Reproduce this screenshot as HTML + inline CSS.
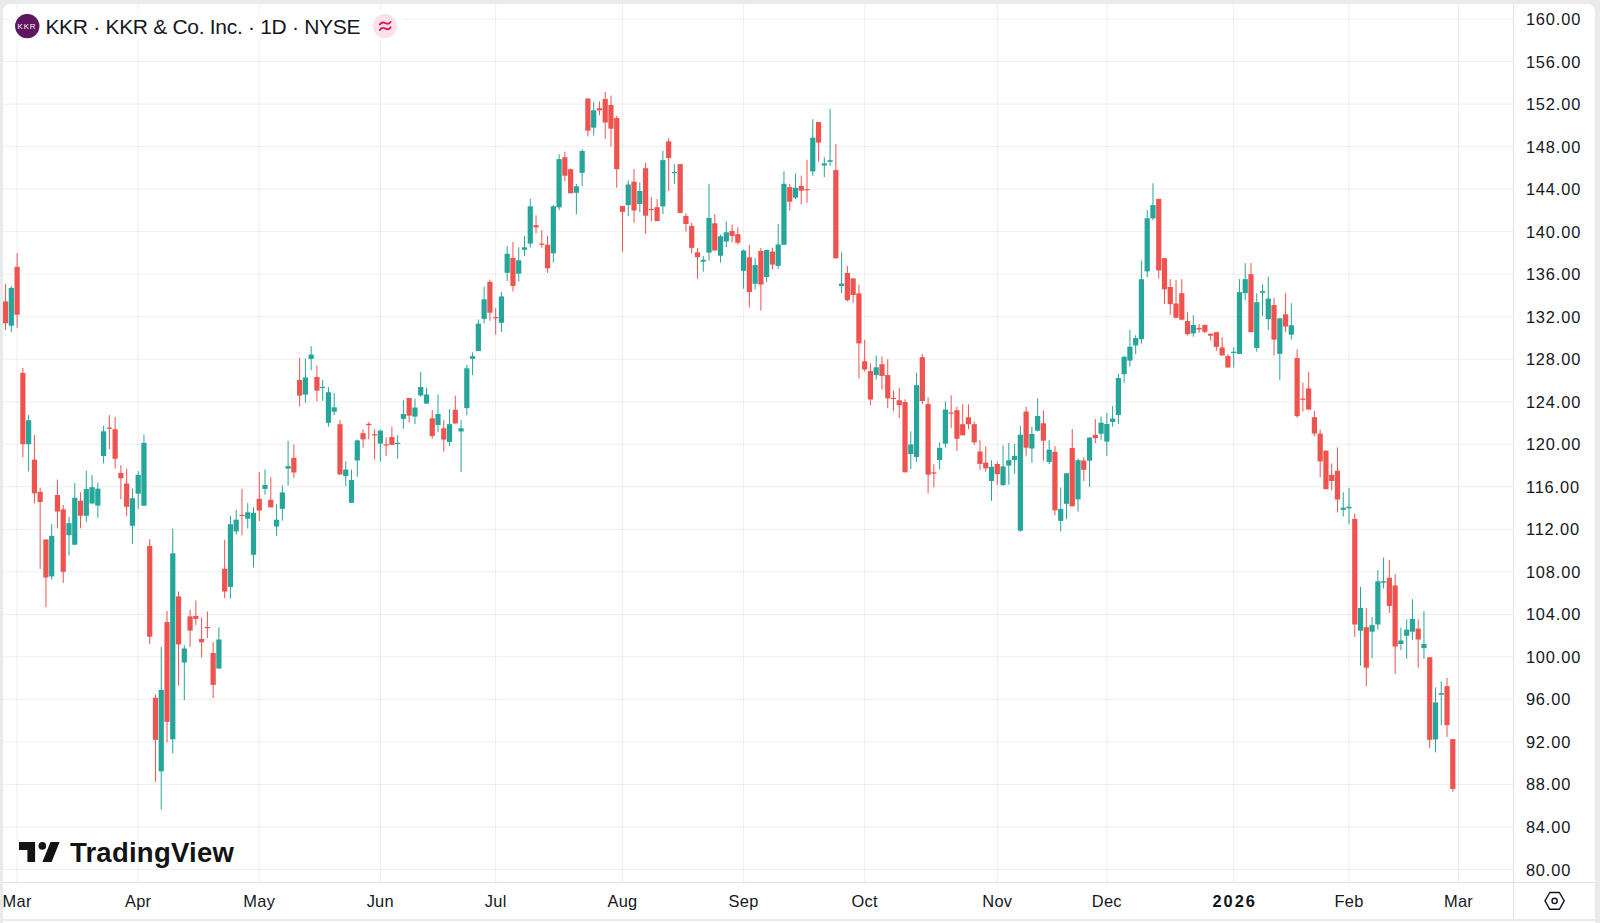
<!DOCTYPE html>
<html><head><meta charset="utf-8"><style>
html,body{margin:0;padding:0;width:1600px;height:923px;overflow:hidden;background:#fff;}
body{position:relative;font-family:"Liberation Sans",sans-serif;color:#131722;}
.bg{position:absolute;left:0;top:0;width:1600px;height:923px;background:#eaeaea;}
.panel{position:absolute;left:3px;top:4px;width:1592px;height:915px;background:#fff;border-radius:7px 7px 0 0;overflow:hidden;}
.below{position:absolute;left:3px;top:921px;width:1592px;height:2px;background:#fff;}
svg.chart{position:absolute;left:0;top:0;}
.pl{position:absolute;left:1525.9px;width:70px;text-align:left;font-size:16.4px;line-height:20px;letter-spacing:0.85px;}
.tl{position:absolute;top:891px;width:80px;text-align:center;font-size:16.4px;line-height:20px;letter-spacing:0.3px;}
.tl.b{font-weight:bold;letter-spacing:1.9px;text-indent:1.9px;}
.hdr{position:absolute;left:45.4px;top:14.5px;font-size:21px;line-height:24px;white-space:nowrap;letter-spacing:-0.3px;}
.tv{position:absolute;left:69.9px;top:837.3px;font-size:27.5px;line-height:32px;font-weight:bold;white-space:nowrap;color:#131313;letter-spacing:0.25px;}
</style></head><body>
<div class="bg"></div>
<div class="panel"></div>
<div class="below"></div>
<svg class="chart" width="1600" height="923" viewBox="0 0 1600 923" shape-rendering="crispEdges">
<rect x="1513" y="4" width="1" height="915" fill="#e0e3eb"/><rect x="3" y="882" width="1592" height="1" fill="#e0e3eb"/>
</svg>
<svg class="chart" width="1600" height="923" viewBox="0 0 1600 923">
<clipPath id="cp"><rect x="3" y="4" width="1510" height="878"/></clipPath>
<g clip-path="url(#cp)"><rect x="3" y="18.50" width="1510" height="1" fill="rgba(42,46,57,0.075)"/><rect x="3" y="61.02" width="1510" height="1" fill="rgba(42,46,57,0.075)"/><rect x="3" y="103.55" width="1510" height="1" fill="rgba(42,46,57,0.075)"/><rect x="3" y="146.07" width="1510" height="1" fill="rgba(42,46,57,0.075)"/><rect x="3" y="188.60" width="1510" height="1" fill="rgba(42,46,57,0.075)"/><rect x="3" y="231.12" width="1510" height="1" fill="rgba(42,46,57,0.075)"/><rect x="3" y="273.64" width="1510" height="1" fill="rgba(42,46,57,0.075)"/><rect x="3" y="316.17" width="1510" height="1" fill="rgba(42,46,57,0.075)"/><rect x="3" y="358.69" width="1510" height="1" fill="rgba(42,46,57,0.075)"/><rect x="3" y="401.22" width="1510" height="1" fill="rgba(42,46,57,0.075)"/><rect x="3" y="443.74" width="1510" height="1" fill="rgba(42,46,57,0.075)"/><rect x="3" y="486.26" width="1510" height="1" fill="rgba(42,46,57,0.075)"/><rect x="3" y="528.79" width="1510" height="1" fill="rgba(42,46,57,0.075)"/><rect x="3" y="571.31" width="1510" height="1" fill="rgba(42,46,57,0.075)"/><rect x="3" y="613.84" width="1510" height="1" fill="rgba(42,46,57,0.075)"/><rect x="3" y="656.36" width="1510" height="1" fill="rgba(42,46,57,0.075)"/><rect x="3" y="698.88" width="1510" height="1" fill="rgba(42,46,57,0.075)"/><rect x="3" y="741.41" width="1510" height="1" fill="rgba(42,46,57,0.075)"/><rect x="3" y="783.93" width="1510" height="1" fill="rgba(42,46,57,0.075)"/><rect x="3" y="826.46" width="1510" height="1" fill="rgba(42,46,57,0.075)"/><rect x="3" y="868.98" width="1510" height="1" fill="rgba(42,46,57,0.075)"/><rect x="16.60" y="3" width="1" height="879" fill="rgba(42,46,57,0.075)"/><rect x="137.68" y="3" width="1" height="879" fill="rgba(42,46,57,0.075)"/><rect x="258.76" y="3" width="1" height="879" fill="rgba(42,46,57,0.075)"/><rect x="379.85" y="3" width="1" height="879" fill="rgba(42,46,57,0.075)"/><rect x="495.16" y="3" width="1" height="879" fill="rgba(42,46,57,0.075)"/><rect x="622.01" y="3" width="1" height="879" fill="rgba(42,46,57,0.075)"/><rect x="743.09" y="3" width="1" height="879" fill="rgba(42,46,57,0.075)"/><rect x="864.17" y="3" width="1" height="879" fill="rgba(42,46,57,0.075)"/><rect x="996.79" y="3" width="1" height="879" fill="rgba(42,46,57,0.075)"/><rect x="1106.34" y="3" width="1" height="879" fill="rgba(42,46,57,0.075)"/><rect x="1233.18" y="3" width="1" height="879" fill="rgba(42,46,57,0.075)"/><rect x="1348.50" y="3" width="1" height="879" fill="rgba(42,46,57,0.075)"/><rect x="1458.05" y="3" width="1" height="879" fill="rgba(42,46,57,0.075)"/><rect x="5.07" y="283.6" width="1" height="46.3" fill="#ef5350"/><rect x="2.97" y="301.4" width="5.2" height="21.8" fill="#ef5350"/><rect x="10.83" y="286.1" width="1" height="46.1" fill="#26a69a"/><rect x="8.73" y="287.9" width="5.2" height="37.8" fill="#26a69a"/><rect x="16.60" y="253.1" width="1" height="74.7" fill="#ef5350"/><rect x="14.50" y="266.8" width="5.2" height="47.9" fill="#ef5350"/><rect x="22.37" y="367.9" width="1" height="89.2" fill="#ef5350"/><rect x="20.27" y="372.9" width="5.2" height="71.3" fill="#ef5350"/><rect x="28.13" y="414.9" width="1" height="56.6" fill="#26a69a"/><rect x="26.03" y="420.2" width="5.2" height="24.0" fill="#26a69a"/><rect x="33.90" y="435.2" width="1" height="68.3" fill="#ef5350"/><rect x="31.80" y="459.7" width="5.2" height="33.7" fill="#ef5350"/><rect x="39.66" y="487.7" width="1" height="81.3" fill="#ef5350"/><rect x="37.56" y="491.9" width="5.2" height="10.1" fill="#ef5350"/><rect x="45.43" y="539.5" width="1" height="67.6" fill="#ef5350"/><rect x="43.33" y="539.5" width="5.2" height="38.0" fill="#ef5350"/><rect x="51.19" y="524.2" width="1" height="55.4" fill="#26a69a"/><rect x="49.09" y="535.9" width="5.2" height="40.5" fill="#26a69a"/><rect x="56.96" y="479.6" width="1" height="48.6" fill="#ef5350"/><rect x="54.86" y="495.0" width="5.2" height="16.5" fill="#ef5350"/><rect x="62.73" y="505.0" width="1" height="77.8" fill="#ef5350"/><rect x="60.63" y="509.4" width="5.2" height="62.4" fill="#ef5350"/><rect x="68.49" y="516.8" width="1" height="38.9" fill="#26a69a"/><rect x="66.39" y="523.2" width="5.2" height="12.0" fill="#26a69a"/><rect x="74.26" y="483.0" width="1" height="61.7" fill="#26a69a"/><rect x="72.16" y="497.8" width="5.2" height="46.9" fill="#26a69a"/><rect x="80.02" y="492.3" width="1" height="35.9" fill="#ef5350"/><rect x="77.92" y="500.8" width="5.2" height="15.0" fill="#ef5350"/><rect x="85.79" y="470.7" width="1" height="51.2" fill="#26a69a"/><rect x="83.69" y="489.1" width="5.2" height="26.7" fill="#26a69a"/><rect x="91.56" y="475.0" width="1" height="28.5" fill="#26a69a"/><rect x="89.46" y="487.2" width="5.2" height="16.3" fill="#26a69a"/><rect x="97.32" y="482.4" width="1" height="35.3" fill="#26a69a"/><rect x="95.22" y="488.7" width="5.2" height="16.9" fill="#26a69a"/><rect x="103.09" y="425.8" width="1" height="37.6" fill="#26a69a"/><rect x="100.99" y="431.3" width="5.2" height="24.7" fill="#26a69a"/><rect x="108.85" y="415.2" width="1" height="33.8" fill="#ef5350"/><rect x="106.75" y="427.5" width="5.2" height="1.3" fill="#ef5350"/><rect x="114.62" y="416.9" width="1" height="51.8" fill="#ef5350"/><rect x="112.52" y="429.2" width="5.2" height="29.6" fill="#ef5350"/><rect x="120.38" y="465.1" width="1" height="34.3" fill="#ef5350"/><rect x="118.28" y="472.9" width="5.2" height="5.3" fill="#ef5350"/><rect x="126.15" y="468.7" width="1" height="47.2" fill="#ef5350"/><rect x="124.05" y="483.5" width="5.2" height="23.3" fill="#ef5350"/><rect x="131.92" y="488.4" width="1" height="55.4" fill="#26a69a"/><rect x="129.82" y="498.3" width="5.2" height="27.5" fill="#26a69a"/><rect x="137.68" y="471.2" width="1" height="37.7" fill="#26a69a"/><rect x="135.58" y="475.0" width="5.2" height="18.7" fill="#26a69a"/><rect x="143.45" y="434.5" width="1" height="71.2" fill="#26a69a"/><rect x="141.35" y="442.9" width="5.2" height="62.8" fill="#26a69a"/><rect x="149.21" y="539.2" width="1" height="104.7" fill="#ef5350"/><rect x="147.11" y="546.0" width="5.2" height="90.7" fill="#ef5350"/><rect x="154.98" y="694.5" width="1" height="87.3" fill="#ef5350"/><rect x="152.88" y="697.8" width="5.2" height="42.0" fill="#ef5350"/><rect x="160.74" y="646.8" width="1" height="162.8" fill="#26a69a"/><rect x="158.64" y="689.9" width="5.2" height="81.4" fill="#26a69a"/><rect x="166.51" y="611.0" width="1" height="131.4" fill="#ef5350"/><rect x="164.41" y="622.1" width="5.2" height="99.7" fill="#ef5350"/><rect x="172.28" y="528.5" width="1" height="224.8" fill="#26a69a"/><rect x="170.18" y="553.3" width="5.2" height="186.0" fill="#26a69a"/><rect x="178.04" y="591.5" width="1" height="93.7" fill="#ef5350"/><rect x="175.94" y="596.4" width="5.2" height="48.0" fill="#ef5350"/><rect x="183.81" y="645.2" width="1" height="55.1" fill="#26a69a"/><rect x="181.71" y="648.5" width="5.2" height="14.0" fill="#26a69a"/><rect x="189.57" y="609.9" width="1" height="36.9" fill="#ef5350"/><rect x="187.47" y="616.3" width="5.2" height="14.3" fill="#ef5350"/><rect x="195.34" y="600.5" width="1" height="24.4" fill="#ef5350"/><rect x="193.24" y="615.9" width="5.2" height="3.0" fill="#ef5350"/><rect x="201.11" y="617.6" width="1" height="39.8" fill="#ef5350"/><rect x="199.01" y="639.0" width="5.2" height="3.3" fill="#ef5350"/><rect x="206.87" y="611.5" width="1" height="26.4" fill="#ef5350"/><rect x="204.77" y="627.0" width="5.2" height="1.2" fill="#ef5350"/><rect x="212.64" y="642.0" width="1" height="56.3" fill="#ef5350"/><rect x="210.54" y="653.0" width="5.2" height="31.9" fill="#ef5350"/><rect x="218.40" y="627.3" width="1" height="41.3" fill="#26a69a"/><rect x="216.30" y="639.5" width="5.2" height="29.1" fill="#26a69a"/><rect x="224.17" y="539.8" width="1" height="58.2" fill="#ef5350"/><rect x="222.07" y="568.8" width="5.2" height="22.7" fill="#ef5350"/><rect x="229.93" y="515.8" width="1" height="82.8" fill="#26a69a"/><rect x="227.83" y="524.2" width="5.2" height="62.7" fill="#26a69a"/><rect x="235.70" y="509.9" width="1" height="24.8" fill="#26a69a"/><rect x="233.60" y="519.7" width="5.2" height="11.7" fill="#26a69a"/><rect x="241.47" y="488.9" width="1" height="46.4" fill="#ef5350"/><rect x="239.37" y="514.8" width="5.2" height="1.2" fill="#ef5350"/><rect x="247.23" y="503.1" width="1" height="25.3" fill="#26a69a"/><rect x="245.13" y="512.3" width="5.2" height="6.4" fill="#26a69a"/><rect x="253.00" y="507.4" width="1" height="60.0" fill="#26a69a"/><rect x="250.90" y="512.8" width="5.2" height="42.0" fill="#26a69a"/><rect x="258.76" y="471.9" width="1" height="49.1" fill="#ef5350"/><rect x="256.66" y="498.8" width="5.2" height="11.7" fill="#ef5350"/><rect x="264.53" y="469.4" width="1" height="25.3" fill="#26a69a"/><rect x="262.43" y="485.0" width="5.2" height="3.9" fill="#26a69a"/><rect x="270.30" y="477.2" width="1" height="30.2" fill="#ef5350"/><rect x="268.20" y="499.8" width="5.2" height="7.6" fill="#ef5350"/><rect x="276.06" y="504.1" width="1" height="31.7" fill="#26a69a"/><rect x="273.96" y="519.7" width="5.2" height="6.8" fill="#26a69a"/><rect x="281.83" y="485.2" width="1" height="35.4" fill="#26a69a"/><rect x="279.73" y="492.4" width="5.2" height="16.5" fill="#26a69a"/><rect x="287.59" y="440.7" width="1" height="44.9" fill="#26a69a"/><rect x="285.49" y="466.1" width="5.2" height="2.5" fill="#26a69a"/><rect x="293.36" y="444.6" width="1" height="33.2" fill="#ef5350"/><rect x="291.26" y="457.9" width="5.2" height="14.6" fill="#ef5350"/><rect x="299.12" y="357.9" width="1" height="48.4" fill="#ef5350"/><rect x="297.02" y="380.0" width="5.2" height="15.6" fill="#ef5350"/><rect x="304.89" y="358.5" width="1" height="44.3" fill="#26a69a"/><rect x="302.79" y="377.4" width="5.2" height="17.2" fill="#26a69a"/><rect x="310.66" y="346.2" width="1" height="24.0" fill="#26a69a"/><rect x="308.56" y="354.6" width="5.2" height="4.3" fill="#26a69a"/><rect x="316.42" y="365.3" width="1" height="36.1" fill="#ef5350"/><rect x="314.32" y="377.0" width="5.2" height="13.7" fill="#ef5350"/><rect x="322.19" y="380.0" width="1" height="20.8" fill="#26a69a"/><rect x="320.09" y="386.8" width="5.2" height="1.2" fill="#26a69a"/><rect x="327.95" y="387.2" width="1" height="39.5" fill="#26a69a"/><rect x="325.85" y="392.2" width="5.2" height="30.6" fill="#26a69a"/><rect x="333.72" y="393.0" width="1" height="22.0" fill="#26a69a"/><rect x="331.62" y="407.3" width="5.2" height="4.4" fill="#26a69a"/><rect x="339.48" y="419.9" width="1" height="54.6" fill="#ef5350"/><rect x="337.38" y="424.2" width="5.2" height="50.3" fill="#ef5350"/><rect x="345.25" y="461.2" width="1" height="25.0" fill="#26a69a"/><rect x="343.15" y="469.6" width="5.2" height="6.5" fill="#26a69a"/><rect x="351.02" y="469.6" width="1" height="33.2" fill="#26a69a"/><rect x="348.92" y="480.0" width="5.2" height="22.8" fill="#26a69a"/><rect x="356.78" y="439.4" width="1" height="37.4" fill="#26a69a"/><rect x="354.68" y="440.4" width="5.2" height="20.1" fill="#26a69a"/><rect x="362.55" y="429.3" width="1" height="18.3" fill="#ef5350"/><rect x="360.45" y="433.2" width="5.2" height="6.2" fill="#ef5350"/><rect x="368.31" y="421.9" width="1" height="17.5" fill="#ef5350"/><rect x="366.21" y="423.8" width="5.2" height="1.4" fill="#ef5350"/><rect x="374.08" y="429.3" width="1" height="30.0" fill="#ef5350"/><rect x="371.98" y="434.2" width="5.2" height="1.2" fill="#ef5350"/><rect x="379.85" y="429.6" width="1" height="32.2" fill="#26a69a"/><rect x="377.75" y="430.6" width="5.2" height="13.0" fill="#26a69a"/><rect x="385.61" y="437.4" width="1" height="18.6" fill="#ef5350"/><rect x="383.51" y="444.3" width="5.2" height="1.2" fill="#ef5350"/><rect x="391.38" y="426.6" width="1" height="18.3" fill="#ef5350"/><rect x="389.28" y="437.0" width="5.2" height="7.9" fill="#ef5350"/><rect x="397.14" y="435.2" width="1" height="23.6" fill="#26a69a"/><rect x="395.04" y="442.8" width="5.2" height="1.2" fill="#26a69a"/><rect x="402.91" y="400.3" width="1" height="28.4" fill="#26a69a"/><rect x="400.81" y="414.0" width="5.2" height="4.9" fill="#26a69a"/><rect x="408.67" y="398.0" width="1" height="24.7" fill="#ef5350"/><rect x="406.57" y="398.0" width="5.2" height="17.7" fill="#ef5350"/><rect x="414.44" y="398.6" width="1" height="25.4" fill="#26a69a"/><rect x="412.34" y="407.5" width="5.2" height="9.1" fill="#26a69a"/><rect x="420.21" y="372.0" width="1" height="24.7" fill="#26a69a"/><rect x="418.11" y="387.0" width="5.2" height="8.4" fill="#26a69a"/><rect x="425.97" y="387.7" width="1" height="15.9" fill="#26a69a"/><rect x="423.87" y="394.5" width="5.2" height="9.1" fill="#26a69a"/><rect x="431.74" y="410.1" width="1" height="28.6" fill="#ef5350"/><rect x="429.64" y="418.3" width="5.2" height="17.8" fill="#ef5350"/><rect x="437.50" y="394.5" width="1" height="37.7" fill="#26a69a"/><rect x="435.40" y="414.0" width="5.2" height="11.0" fill="#26a69a"/><rect x="443.27" y="420.1" width="1" height="31.6" fill="#ef5350"/><rect x="441.17" y="428.3" width="5.2" height="11.3" fill="#ef5350"/><rect x="449.03" y="409.2" width="1" height="36.6" fill="#26a69a"/><rect x="446.93" y="424.1" width="5.2" height="17.8" fill="#26a69a"/><rect x="454.80" y="395.8" width="1" height="27.7" fill="#ef5350"/><rect x="452.70" y="409.8" width="5.2" height="13.7" fill="#ef5350"/><rect x="460.57" y="420.1" width="1" height="52.0" fill="#26a69a"/><rect x="458.47" y="428.3" width="5.2" height="3.2" fill="#26a69a"/><rect x="466.33" y="364.9" width="1" height="50.4" fill="#26a69a"/><rect x="464.23" y="368.3" width="5.2" height="39.8" fill="#26a69a"/><rect x="472.10" y="352.4" width="1" height="22.7" fill="#26a69a"/><rect x="470.00" y="356.2" width="5.2" height="2.6" fill="#26a69a"/><rect x="477.86" y="319.5" width="1" height="31.5" fill="#26a69a"/><rect x="475.76" y="323.7" width="5.2" height="27.3" fill="#26a69a"/><rect x="483.63" y="286.7" width="1" height="36.6" fill="#26a69a"/><rect x="481.53" y="299.3" width="5.2" height="19.6" fill="#26a69a"/><rect x="489.40" y="279.8" width="1" height="41.0" fill="#ef5350"/><rect x="487.30" y="281.8" width="5.2" height="30.9" fill="#ef5350"/><rect x="495.16" y="308.1" width="1" height="26.5" fill="#ef5350"/><rect x="493.06" y="317.1" width="5.2" height="1.2" fill="#ef5350"/><rect x="500.93" y="292.0" width="1" height="39.9" fill="#26a69a"/><rect x="498.83" y="296.4" width="5.2" height="26.4" fill="#26a69a"/><rect x="506.69" y="246.0" width="1" height="35.0" fill="#26a69a"/><rect x="504.59" y="253.8" width="5.2" height="19.0" fill="#26a69a"/><rect x="512.46" y="242.0" width="1" height="49.5" fill="#ef5350"/><rect x="510.36" y="257.9" width="5.2" height="28.0" fill="#ef5350"/><rect x="518.22" y="247.3" width="1" height="34.2" fill="#26a69a"/><rect x="516.12" y="260.3" width="5.2" height="13.4" fill="#26a69a"/><rect x="523.99" y="235.9" width="1" height="20.2" fill="#26a69a"/><rect x="521.89" y="247.3" width="5.2" height="2.5" fill="#26a69a"/><rect x="529.76" y="198.6" width="1" height="49.0" fill="#26a69a"/><rect x="527.66" y="206.3" width="5.2" height="37.3" fill="#26a69a"/><rect x="535.52" y="215.2" width="1" height="18.0" fill="#ef5350"/><rect x="533.42" y="225.2" width="5.2" height="2.2" fill="#ef5350"/><rect x="541.29" y="230.1" width="1" height="17.5" fill="#ef5350"/><rect x="539.19" y="243.6" width="5.2" height="1.2" fill="#ef5350"/><rect x="547.05" y="236.0" width="1" height="36.8" fill="#ef5350"/><rect x="544.95" y="244.7" width="5.2" height="23.6" fill="#ef5350"/><rect x="552.82" y="205.1" width="1" height="57.5" fill="#26a69a"/><rect x="550.72" y="206.3" width="5.2" height="47.0" fill="#26a69a"/><rect x="558.59" y="154.2" width="1" height="56.1" fill="#26a69a"/><rect x="556.49" y="159.1" width="5.2" height="48.3" fill="#26a69a"/><rect x="564.35" y="151.5" width="1" height="29.5" fill="#ef5350"/><rect x="562.25" y="157.2" width="5.2" height="18.5" fill="#ef5350"/><rect x="570.12" y="168.5" width="1" height="24.8" fill="#ef5350"/><rect x="568.02" y="169.2" width="5.2" height="24.1" fill="#ef5350"/><rect x="575.88" y="184.0" width="1" height="30.4" fill="#26a69a"/><rect x="573.78" y="186.3" width="5.2" height="6.5" fill="#26a69a"/><rect x="581.65" y="149.3" width="1" height="36.6" fill="#26a69a"/><rect x="579.55" y="151.0" width="5.2" height="21.9" fill="#26a69a"/><rect x="587.41" y="98.5" width="1" height="37.8" fill="#ef5350"/><rect x="585.31" y="98.5" width="5.2" height="32.2" fill="#ef5350"/><rect x="593.18" y="102.2" width="1" height="33.3" fill="#26a69a"/><rect x="591.08" y="110.3" width="5.2" height="17.4" fill="#26a69a"/><rect x="598.95" y="101.4" width="1" height="13.8" fill="#ef5350"/><rect x="596.85" y="108.2" width="5.2" height="2.1" fill="#ef5350"/><rect x="604.71" y="92.0" width="1" height="46.8" fill="#ef5350"/><rect x="602.61" y="98.9" width="5.2" height="23.6" fill="#ef5350"/><rect x="610.48" y="95.7" width="1" height="50.9" fill="#ef5350"/><rect x="608.38" y="105.0" width="5.2" height="23.7" fill="#ef5350"/><rect x="616.24" y="116.0" width="1" height="71.6" fill="#ef5350"/><rect x="614.14" y="118.0" width="5.2" height="51.2" fill="#ef5350"/><rect x="622.01" y="206.1" width="1" height="45.5" fill="#ef5350"/><rect x="619.91" y="206.1" width="5.2" height="5.7" fill="#ef5350"/><rect x="627.77" y="180.4" width="1" height="35.5" fill="#26a69a"/><rect x="625.67" y="184.5" width="5.2" height="20.6" fill="#26a69a"/><rect x="633.54" y="169.0" width="1" height="53.7" fill="#ef5350"/><rect x="631.44" y="181.7" width="5.2" height="28.8" fill="#ef5350"/><rect x="639.31" y="182.4" width="1" height="29.7" fill="#26a69a"/><rect x="637.21" y="191.0" width="5.2" height="13.0" fill="#26a69a"/><rect x="645.07" y="162.8" width="1" height="70.8" fill="#ef5350"/><rect x="642.97" y="168.2" width="5.2" height="47.5" fill="#ef5350"/><rect x="650.84" y="197.0" width="1" height="24.5" fill="#ef5350"/><rect x="648.74" y="208.9" width="5.2" height="1.2" fill="#ef5350"/><rect x="656.60" y="199.1" width="1" height="22.0" fill="#ef5350"/><rect x="654.50" y="207.2" width="5.2" height="13.9" fill="#ef5350"/><rect x="662.37" y="150.8" width="1" height="63.3" fill="#26a69a"/><rect x="660.27" y="160.1" width="5.2" height="46.3" fill="#26a69a"/><rect x="668.14" y="138.1" width="1" height="52.9" fill="#ef5350"/><rect x="666.04" y="141.4" width="5.2" height="16.6" fill="#ef5350"/><rect x="673.90" y="164.1" width="1" height="19.9" fill="#26a69a"/><rect x="671.80" y="172.0" width="5.2" height="1.2" fill="#26a69a"/><rect x="679.67" y="164.1" width="1" height="48.8" fill="#ef5350"/><rect x="677.57" y="164.1" width="5.2" height="48.8" fill="#ef5350"/><rect x="685.43" y="213.3" width="1" height="18.3" fill="#ef5350"/><rect x="683.33" y="215.9" width="5.2" height="8.1" fill="#ef5350"/><rect x="691.20" y="222.7" width="1" height="30.9" fill="#ef5350"/><rect x="689.10" y="225.9" width="5.2" height="22.0" fill="#ef5350"/><rect x="696.96" y="247.9" width="1" height="30.9" fill="#ef5350"/><rect x="694.86" y="252.3" width="5.2" height="4.9" fill="#ef5350"/><rect x="702.73" y="256.0" width="1" height="15.8" fill="#26a69a"/><rect x="700.63" y="259.8" width="5.2" height="1.9" fill="#26a69a"/><rect x="708.50" y="183.8" width="1" height="76.9" fill="#26a69a"/><rect x="706.40" y="218.0" width="5.2" height="34.6" fill="#26a69a"/><rect x="714.26" y="214.2" width="1" height="36.3" fill="#ef5350"/><rect x="712.16" y="223.3" width="5.2" height="27.2" fill="#ef5350"/><rect x="720.03" y="234.7" width="1" height="28.0" fill="#26a69a"/><rect x="717.93" y="236.3" width="5.2" height="19.4" fill="#26a69a"/><rect x="725.79" y="221.2" width="1" height="26.0" fill="#26a69a"/><rect x="723.69" y="232.3" width="5.2" height="9.2" fill="#26a69a"/><rect x="731.56" y="224.5" width="1" height="17.9" fill="#ef5350"/><rect x="729.46" y="231.0" width="5.2" height="4.9" fill="#ef5350"/><rect x="737.32" y="227.2" width="1" height="17.3" fill="#ef5350"/><rect x="735.22" y="234.2" width="5.2" height="8.5" fill="#ef5350"/><rect x="743.09" y="249.3" width="1" height="39.4" fill="#26a69a"/><rect x="740.99" y="250.5" width="5.2" height="20.3" fill="#26a69a"/><rect x="748.86" y="244.8" width="1" height="62.6" fill="#ef5350"/><rect x="746.76" y="257.3" width="5.2" height="34.7" fill="#ef5350"/><rect x="754.62" y="258.1" width="1" height="31.4" fill="#26a69a"/><rect x="752.52" y="265.1" width="5.2" height="18.7" fill="#26a69a"/><rect x="760.39" y="248.0" width="1" height="62.7" fill="#ef5350"/><rect x="758.29" y="251.0" width="5.2" height="33.6" fill="#ef5350"/><rect x="766.15" y="249.3" width="1" height="32.9" fill="#26a69a"/><rect x="764.05" y="250.0" width="5.2" height="27.0" fill="#26a69a"/><rect x="771.92" y="247.7" width="1" height="21.8" fill="#ef5350"/><rect x="769.82" y="251.6" width="5.2" height="13.0" fill="#ef5350"/><rect x="777.69" y="224.0" width="1" height="44.9" fill="#26a69a"/><rect x="775.59" y="244.5" width="5.2" height="21.4" fill="#26a69a"/><rect x="783.45" y="171.3" width="1" height="73.5" fill="#26a69a"/><rect x="781.35" y="183.8" width="5.2" height="61.0" fill="#26a69a"/><rect x="789.22" y="183.8" width="1" height="26.9" fill="#ef5350"/><rect x="787.12" y="187.1" width="5.2" height="14.6" fill="#ef5350"/><rect x="794.98" y="173.5" width="1" height="25.7" fill="#26a69a"/><rect x="792.88" y="187.8" width="5.2" height="9.8" fill="#26a69a"/><rect x="800.75" y="175.6" width="1" height="28.8" fill="#ef5350"/><rect x="798.65" y="185.9" width="5.2" height="4.8" fill="#ef5350"/><rect x="806.51" y="159.8" width="1" height="43.0" fill="#ef5350"/><rect x="804.41" y="189.1" width="5.2" height="1.2" fill="#ef5350"/><rect x="812.28" y="119.2" width="1" height="56.9" fill="#26a69a"/><rect x="810.18" y="137.7" width="5.2" height="33.8" fill="#26a69a"/><rect x="818.05" y="122.0" width="1" height="39.8" fill="#ef5350"/><rect x="815.95" y="122.0" width="5.2" height="20.6" fill="#ef5350"/><rect x="823.81" y="157.2" width="1" height="20.0" fill="#26a69a"/><rect x="821.71" y="163.4" width="5.2" height="2.1" fill="#26a69a"/><rect x="829.58" y="108.9" width="1" height="57.0" fill="#26a69a"/><rect x="827.48" y="160.2" width="5.2" height="1.6" fill="#26a69a"/><rect x="835.34" y="144.2" width="1" height="114.2" fill="#ef5350"/><rect x="833.24" y="170.1" width="5.2" height="88.3" fill="#ef5350"/><rect x="841.11" y="252.4" width="1" height="40.6" fill="#26a69a"/><rect x="839.01" y="283.6" width="5.2" height="2.4" fill="#26a69a"/><rect x="846.88" y="266.0" width="1" height="35.5" fill="#ef5350"/><rect x="844.78" y="273.0" width="5.2" height="27.2" fill="#ef5350"/><rect x="852.64" y="278.4" width="1" height="24.4" fill="#ef5350"/><rect x="850.54" y="278.4" width="5.2" height="16.6" fill="#ef5350"/><rect x="858.41" y="284.6" width="1" height="93.8" fill="#ef5350"/><rect x="856.31" y="293.3" width="5.2" height="50.1" fill="#ef5350"/><rect x="864.17" y="339.8" width="1" height="31.6" fill="#ef5350"/><rect x="862.07" y="361.3" width="5.2" height="8.1" fill="#ef5350"/><rect x="869.94" y="363.3" width="1" height="42.2" fill="#ef5350"/><rect x="867.84" y="371.1" width="5.2" height="28.4" fill="#ef5350"/><rect x="875.70" y="355.6" width="1" height="23.9" fill="#26a69a"/><rect x="873.60" y="367.3" width="5.2" height="7.8" fill="#26a69a"/><rect x="881.47" y="356.4" width="1" height="33.4" fill="#ef5350"/><rect x="879.37" y="364.2" width="5.2" height="11.7" fill="#ef5350"/><rect x="887.24" y="359.2" width="1" height="48.9" fill="#ef5350"/><rect x="885.14" y="375.1" width="5.2" height="23.3" fill="#ef5350"/><rect x="893.00" y="390.6" width="1" height="20.3" fill="#ef5350"/><rect x="890.90" y="397.9" width="5.2" height="1.2" fill="#ef5350"/><rect x="898.77" y="388.1" width="1" height="30.1" fill="#ef5350"/><rect x="896.67" y="400.3" width="5.2" height="4.9" fill="#ef5350"/><rect x="921.83" y="354.0" width="1" height="49.9" fill="#ef5350"/><rect x="919.73" y="357.2" width="5.2" height="43.9" fill="#ef5350"/><rect x="904.53" y="399.2" width="1" height="73.1" fill="#ef5350"/><rect x="902.43" y="402.1" width="5.2" height="70.2" fill="#ef5350"/><rect x="910.30" y="431.4" width="1" height="37.7" fill="#26a69a"/><rect x="908.20" y="444.4" width="5.2" height="9.7" fill="#26a69a"/><rect x="916.06" y="372.7" width="1" height="89.2" fill="#26a69a"/><rect x="913.96" y="385.2" width="5.2" height="71.8" fill="#26a69a"/><rect x="927.60" y="397.2" width="1" height="96.2" fill="#ef5350"/><rect x="925.50" y="404.1" width="5.2" height="70.6" fill="#ef5350"/><rect x="933.36" y="464.3" width="1" height="23.0" fill="#ef5350"/><rect x="931.26" y="472.3" width="5.2" height="1.3" fill="#ef5350"/><rect x="939.13" y="442.2" width="1" height="27.5" fill="#26a69a"/><rect x="937.03" y="447.9" width="5.2" height="12.1" fill="#26a69a"/><rect x="944.89" y="401.5" width="1" height="46.1" fill="#26a69a"/><rect x="942.79" y="409.6" width="5.2" height="34.1" fill="#26a69a"/><rect x="950.66" y="395.3" width="1" height="32.8" fill="#ef5350"/><rect x="948.56" y="412.5" width="5.2" height="1.2" fill="#ef5350"/><rect x="956.43" y="407.0" width="1" height="43.9" fill="#ef5350"/><rect x="954.33" y="410.2" width="5.2" height="28.6" fill="#ef5350"/><rect x="962.19" y="404.1" width="1" height="31.2" fill="#ef5350"/><rect x="960.09" y="424.2" width="5.2" height="11.1" fill="#ef5350"/><rect x="967.96" y="404.4" width="1" height="24.8" fill="#ef5350"/><rect x="965.86" y="417.3" width="5.2" height="6.9" fill="#ef5350"/><rect x="973.72" y="421.4" width="1" height="23.4" fill="#ef5350"/><rect x="971.62" y="424.2" width="5.2" height="18.2" fill="#ef5350"/><rect x="979.49" y="440.1" width="1" height="30.0" fill="#ef5350"/><rect x="977.39" y="451.5" width="5.2" height="12.4" fill="#ef5350"/><rect x="985.25" y="446.3" width="1" height="25.4" fill="#ef5350"/><rect x="983.15" y="462.6" width="5.2" height="5.8" fill="#ef5350"/><rect x="991.02" y="460.2" width="1" height="40.7" fill="#26a69a"/><rect x="988.92" y="466.7" width="5.2" height="14.4" fill="#26a69a"/><rect x="996.79" y="461.5" width="1" height="23.6" fill="#ef5350"/><rect x="994.69" y="464.0" width="5.2" height="10.2" fill="#ef5350"/><rect x="1002.55" y="445.3" width="1" height="40.6" fill="#26a69a"/><rect x="1000.45" y="466.4" width="5.2" height="18.7" fill="#26a69a"/><rect x="1008.32" y="442.8" width="1" height="41.8" fill="#26a69a"/><rect x="1006.22" y="460.2" width="5.2" height="5.4" fill="#26a69a"/><rect x="1014.08" y="444.0" width="1" height="29.7" fill="#26a69a"/><rect x="1011.98" y="455.9" width="5.2" height="4.0" fill="#26a69a"/><rect x="1019.85" y="425.8" width="1" height="106.0" fill="#26a69a"/><rect x="1017.75" y="434.7" width="5.2" height="96.0" fill="#26a69a"/><rect x="1025.61" y="406.7" width="1" height="49.6" fill="#ef5350"/><rect x="1023.51" y="411.5" width="5.2" height="36.2" fill="#ef5350"/><rect x="1031.38" y="426.6" width="1" height="36.2" fill="#26a69a"/><rect x="1029.28" y="433.9" width="5.2" height="14.6" fill="#26a69a"/><rect x="1037.15" y="398.5" width="1" height="33.0" fill="#26a69a"/><rect x="1035.05" y="416.0" width="5.2" height="14.7" fill="#26a69a"/><rect x="1042.91" y="410.3" width="1" height="50.4" fill="#ef5350"/><rect x="1040.81" y="423.3" width="5.2" height="17.4" fill="#ef5350"/><rect x="1048.68" y="440.1" width="1" height="23.9" fill="#26a69a"/><rect x="1046.58" y="449.7" width="5.2" height="12.2" fill="#26a69a"/><rect x="1054.44" y="446.1" width="1" height="69.1" fill="#ef5350"/><rect x="1052.34" y="451.8" width="5.2" height="58.5" fill="#ef5350"/><rect x="1060.21" y="487.6" width="1" height="43.9" fill="#26a69a"/><rect x="1058.11" y="509.0" width="5.2" height="11.9" fill="#26a69a"/><rect x="1065.98" y="473.3" width="1" height="46.0" fill="#26a69a"/><rect x="1063.88" y="473.3" width="5.2" height="30.5" fill="#26a69a"/><rect x="1071.74" y="429.0" width="1" height="77.3" fill="#ef5350"/><rect x="1069.64" y="448.0" width="5.2" height="58.3" fill="#ef5350"/><rect x="1077.51" y="458.6" width="1" height="53.0" fill="#26a69a"/><rect x="1075.41" y="460.2" width="5.2" height="39.1" fill="#26a69a"/><rect x="1083.27" y="457.2" width="1" height="23.8" fill="#ef5350"/><rect x="1081.17" y="460.5" width="5.2" height="9.3" fill="#ef5350"/><rect x="1089.04" y="437.0" width="1" height="50.1" fill="#26a69a"/><rect x="1086.94" y="437.6" width="5.2" height="23.1" fill="#26a69a"/><rect x="1094.80" y="419.1" width="1" height="23.9" fill="#ef5350"/><rect x="1092.70" y="434.9" width="5.2" height="3.2" fill="#ef5350"/><rect x="1100.57" y="416.5" width="1" height="23.3" fill="#26a69a"/><rect x="1098.47" y="422.7" width="5.2" height="11.0" fill="#26a69a"/><rect x="1106.34" y="412.9" width="1" height="42.9" fill="#26a69a"/><rect x="1104.24" y="424.0" width="5.2" height="17.6" fill="#26a69a"/><rect x="1112.10" y="406.1" width="1" height="20.6" fill="#26a69a"/><rect x="1110.00" y="418.6" width="5.2" height="3.3" fill="#26a69a"/><rect x="1117.87" y="373.6" width="1" height="50.4" fill="#26a69a"/><rect x="1115.77" y="378.0" width="5.2" height="36.9" fill="#26a69a"/><rect x="1123.63" y="356.0" width="1" height="26.8" fill="#26a69a"/><rect x="1121.53" y="356.8" width="5.2" height="17.4" fill="#26a69a"/><rect x="1129.40" y="329.8" width="1" height="36.8" fill="#26a69a"/><rect x="1127.30" y="346.7" width="5.2" height="13.9" fill="#26a69a"/><rect x="1135.17" y="335.3" width="1" height="18.7" fill="#26a69a"/><rect x="1133.07" y="338.1" width="5.2" height="7.3" fill="#26a69a"/><rect x="1140.93" y="260.6" width="1" height="82.9" fill="#26a69a"/><rect x="1138.83" y="279.2" width="5.2" height="60.0" fill="#26a69a"/><rect x="1146.70" y="210.0" width="1" height="67.2" fill="#26a69a"/><rect x="1144.60" y="218.3" width="5.2" height="53.1" fill="#26a69a"/><rect x="1152.46" y="183.3" width="1" height="37.0" fill="#26a69a"/><rect x="1150.36" y="205.1" width="5.2" height="13.2" fill="#26a69a"/><rect x="1158.23" y="198.9" width="1" height="79.9" fill="#ef5350"/><rect x="1156.13" y="198.9" width="5.2" height="71.5" fill="#ef5350"/><rect x="1163.99" y="258.1" width="1" height="46.0" fill="#ef5350"/><rect x="1161.89" y="258.1" width="5.2" height="31.2" fill="#ef5350"/><rect x="1169.76" y="279.2" width="1" height="35.4" fill="#ef5350"/><rect x="1167.66" y="287.0" width="5.2" height="17.1" fill="#ef5350"/><rect x="1175.53" y="280.1" width="1" height="37.7" fill="#ef5350"/><rect x="1173.43" y="303.5" width="5.2" height="14.3" fill="#ef5350"/><rect x="1181.29" y="279.2" width="1" height="41.3" fill="#ef5350"/><rect x="1179.19" y="293.2" width="5.2" height="26.5" fill="#ef5350"/><rect x="1187.06" y="312.3" width="1" height="23.4" fill="#ef5350"/><rect x="1184.96" y="321.1" width="5.2" height="13.0" fill="#ef5350"/><rect x="1192.82" y="315.2" width="1" height="21.5" fill="#26a69a"/><rect x="1190.72" y="325.0" width="5.2" height="8.4" fill="#26a69a"/><rect x="1198.59" y="324.0" width="1" height="8.8" fill="#ef5350"/><rect x="1196.49" y="327.9" width="5.2" height="1.6" fill="#ef5350"/><rect x="1204.35" y="324.4" width="1" height="9.0" fill="#ef5350"/><rect x="1202.25" y="325.0" width="5.2" height="6.8" fill="#ef5350"/><rect x="1210.12" y="333.4" width="1" height="7.2" fill="#ef5350"/><rect x="1208.02" y="333.7" width="5.2" height="2.0" fill="#ef5350"/><rect x="1215.89" y="332.2" width="1" height="18.7" fill="#ef5350"/><rect x="1213.79" y="332.2" width="5.2" height="14.7" fill="#ef5350"/><rect x="1221.65" y="337.1" width="1" height="18.4" fill="#ef5350"/><rect x="1219.55" y="347.4" width="5.2" height="8.1" fill="#ef5350"/><rect x="1227.42" y="354.2" width="1" height="13.3" fill="#ef5350"/><rect x="1225.32" y="356.1" width="5.2" height="11.4" fill="#ef5350"/><rect x="1233.18" y="347.4" width="1" height="20.1" fill="#26a69a"/><rect x="1231.08" y="351.7" width="5.2" height="1.3" fill="#26a69a"/><rect x="1238.95" y="279.1" width="1" height="74.8" fill="#26a69a"/><rect x="1236.85" y="292.1" width="5.2" height="61.8" fill="#26a69a"/><rect x="1244.72" y="263.1" width="1" height="37.1" fill="#26a69a"/><rect x="1242.62" y="279.1" width="5.2" height="14.1" fill="#26a69a"/><rect x="1250.48" y="263.1" width="1" height="69.1" fill="#ef5350"/><rect x="1248.38" y="274.2" width="5.2" height="58.0" fill="#ef5350"/><rect x="1256.25" y="293.2" width="1" height="58.5" fill="#26a69a"/><rect x="1254.15" y="302.2" width="5.2" height="45.8" fill="#26a69a"/><rect x="1262.01" y="284.3" width="1" height="31.7" fill="#26a69a"/><rect x="1259.91" y="291.1" width="5.2" height="1.6" fill="#26a69a"/><rect x="1267.78" y="276.6" width="1" height="53.5" fill="#26a69a"/><rect x="1265.68" y="298.6" width="5.2" height="20.6" fill="#26a69a"/><rect x="1273.54" y="298.1" width="1" height="57.4" fill="#ef5350"/><rect x="1271.44" y="305.1" width="5.2" height="34.5" fill="#ef5350"/><rect x="1279.31" y="317.6" width="1" height="62.3" fill="#26a69a"/><rect x="1277.21" y="318.4" width="5.2" height="35.5" fill="#26a69a"/><rect x="1285.08" y="293.2" width="1" height="39.0" fill="#ef5350"/><rect x="1282.98" y="314.3" width="5.2" height="12.2" fill="#ef5350"/><rect x="1290.84" y="303.3" width="1" height="36.3" fill="#26a69a"/><rect x="1288.74" y="325.2" width="5.2" height="9.5" fill="#26a69a"/><rect x="1296.61" y="349.3" width="1" height="68.5" fill="#ef5350"/><rect x="1294.51" y="358.1" width="5.2" height="58.0" fill="#ef5350"/><rect x="1302.37" y="382.8" width="1" height="28.8" fill="#ef5350"/><rect x="1300.27" y="398.6" width="5.2" height="1.2" fill="#ef5350"/><rect x="1308.14" y="371.9" width="1" height="38.1" fill="#ef5350"/><rect x="1306.04" y="388.4" width="5.2" height="21.1" fill="#ef5350"/><rect x="1313.90" y="411.0" width="1" height="25.3" fill="#ef5350"/><rect x="1311.80" y="417.2" width="5.2" height="16.4" fill="#ef5350"/><rect x="1319.67" y="429.5" width="1" height="47.9" fill="#ef5350"/><rect x="1317.57" y="433.6" width="5.2" height="27.8" fill="#ef5350"/><rect x="1325.44" y="450.1" width="1" height="39.1" fill="#ef5350"/><rect x="1323.34" y="450.7" width="5.2" height="38.5" fill="#ef5350"/><rect x="1331.20" y="463.5" width="1" height="26.7" fill="#ef5350"/><rect x="1329.10" y="474.8" width="5.2" height="6.2" fill="#ef5350"/><rect x="1336.97" y="447.4" width="1" height="65.0" fill="#ef5350"/><rect x="1334.87" y="470.7" width="5.2" height="28.8" fill="#ef5350"/><rect x="1342.73" y="492.3" width="1" height="24.2" fill="#26a69a"/><rect x="1340.63" y="507.7" width="5.2" height="2.1" fill="#26a69a"/><rect x="1348.50" y="488.1" width="1" height="36.1" fill="#26a69a"/><rect x="1346.40" y="506.7" width="5.2" height="1.6" fill="#26a69a"/><rect x="1354.27" y="513.4" width="1" height="123.4" fill="#ef5350"/><rect x="1352.17" y="518.9" width="5.2" height="105.6" fill="#ef5350"/><rect x="1360.03" y="586.8" width="1" height="78.8" fill="#26a69a"/><rect x="1357.93" y="608.0" width="5.2" height="22.7" fill="#26a69a"/><rect x="1365.80" y="608.0" width="1" height="78.2" fill="#ef5350"/><rect x="1363.70" y="627.2" width="5.2" height="40.5" fill="#ef5350"/><rect x="1371.56" y="616.9" width="1" height="41.5" fill="#26a69a"/><rect x="1369.46" y="625.1" width="5.2" height="6.6" fill="#26a69a"/><rect x="1377.33" y="570.0" width="1" height="59.6" fill="#26a69a"/><rect x="1375.23" y="581.3" width="5.2" height="43.2" fill="#26a69a"/><rect x="1383.09" y="557.6" width="1" height="30.9" fill="#26a69a"/><rect x="1380.99" y="581.3" width="5.2" height="1.4" fill="#26a69a"/><rect x="1388.86" y="560.1" width="1" height="52.7" fill="#ef5350"/><rect x="1386.76" y="577.8" width="5.2" height="28.2" fill="#ef5350"/><rect x="1394.63" y="574.1" width="1" height="99.8" fill="#ef5350"/><rect x="1392.53" y="585.4" width="5.2" height="61.1" fill="#ef5350"/><rect x="1400.39" y="627.6" width="1" height="22.6" fill="#26a69a"/><rect x="1398.29" y="640.5" width="5.2" height="3.5" fill="#26a69a"/><rect x="1406.16" y="619.3" width="1" height="39.5" fill="#26a69a"/><rect x="1404.06" y="629.6" width="5.2" height="6.2" fill="#26a69a"/><rect x="1411.92" y="599.2" width="1" height="40.7" fill="#26a69a"/><rect x="1409.82" y="618.9" width="5.2" height="12.8" fill="#26a69a"/><rect x="1417.69" y="619.3" width="1" height="48.4" fill="#ef5350"/><rect x="1415.59" y="628.6" width="5.2" height="10.9" fill="#ef5350"/><rect x="1423.46" y="611.1" width="1" height="47.7" fill="#26a69a"/><rect x="1421.36" y="644.0" width="5.2" height="4.1" fill="#26a69a"/><rect x="1429.22" y="657.3" width="1" height="90.6" fill="#ef5350"/><rect x="1427.12" y="657.3" width="5.2" height="82.5" fill="#ef5350"/><rect x="1434.99" y="687.4" width="1" height="65.0" fill="#26a69a"/><rect x="1432.89" y="702.4" width="5.2" height="37.0" fill="#26a69a"/><rect x="1440.75" y="681.2" width="1" height="43.9" fill="#26a69a"/><rect x="1438.65" y="693.1" width="5.2" height="1.6" fill="#26a69a"/><rect x="1446.52" y="678.0" width="1" height="59.0" fill="#ef5350"/><rect x="1444.42" y="686.1" width="5.2" height="39.0" fill="#ef5350"/><rect x="1452.28" y="739.1" width="1" height="52.7" fill="#ef5350"/><rect x="1450.18" y="739.1" width="5.2" height="49.9" fill="#ef5350"/></g>
</svg>
<div class="pl" style="top:9.0px">160.00</div><div class="pl" style="top:51.5px">156.00</div><div class="pl" style="top:94.0px">152.00</div><div class="pl" style="top:136.6px">148.00</div><div class="pl" style="top:179.1px">144.00</div><div class="pl" style="top:221.6px">140.00</div><div class="pl" style="top:264.1px">136.00</div><div class="pl" style="top:306.7px">132.00</div><div class="pl" style="top:349.2px">128.00</div><div class="pl" style="top:391.7px">124.00</div><div class="pl" style="top:434.2px">120.00</div><div class="pl" style="top:476.8px">116.00</div><div class="pl" style="top:519.3px">112.00</div><div class="pl" style="top:561.8px">108.00</div><div class="pl" style="top:604.3px">104.00</div><div class="pl" style="top:646.9px">100.00</div><div class="pl" style="top:689.4px">96.00</div><div class="pl" style="top:731.9px">92.00</div><div class="pl" style="top:774.4px">88.00</div><div class="pl" style="top:817.0px">84.00</div><div class="pl" style="top:859.5px">80.00</div>
<div class="tl" style="left:-22.9px">Mar</div><div class="tl" style="left:98.2px">Apr</div><div class="tl" style="left:219.3px">May</div><div class="tl" style="left:340.3px">Jun</div><div class="tl" style="left:455.7px">Jul</div><div class="tl" style="left:582.5px">Aug</div><div class="tl" style="left:703.6px">Sep</div><div class="tl" style="left:824.7px">Oct</div><div class="tl" style="left:957.3px">Nov</div><div class="tl" style="left:1066.8px">Dec</div><div class="tl b" style="left:1193.7px">2026</div><div class="tl" style="left:1309.0px">Feb</div><div class="tl" style="left:1418.5px">Mar</div>
<div style="position:absolute;left:8px;top:9.7px;width:394px;height:31.5px;background:rgba(255,255,255,0.8);border-radius:4px"></div><svg style="position:absolute;left:15px;top:13.5px" width="25" height="25" viewBox="0 0 25 25"><circle cx="12.25" cy="12.1" r="12.2" fill="#5e1660"/><text x="12.3" y="15.2" font-family="Liberation Sans" font-size="7.8" fill="#fff" text-anchor="middle" letter-spacing="1.6" textLength="19.5" lengthAdjust="spacing">KKR</text></svg>
<div class="hdr">KKR · KKR &amp; Co. Inc. · 1D · NYSE</div>
<svg style="position:absolute;left:373px;top:13.5px" width="25" height="25" viewBox="0 0 25 25"><circle cx="12" cy="12.1" r="12.1" fill="#fbe1e9"/><g fill="none" stroke="#e0145e" stroke-width="1.8" stroke-linecap="round"><path d="M6.8 10.6C8.6 7.9 11 8.4 12.6 9.2S16.3 10.2 17.6 7.9"/><path d="M6.8 16C8.6 13.3 11 13.8 12.6 14.6S16.3 15.6 17.6 13.3"/></g></svg>
<svg style="position:absolute;left:0;top:0" width="1600" height="923" viewBox="0 0 1600 923">
<path d="M19 842H35.1V861.9H27.4V849.9H19Z" fill="#131313"/>
<circle cx="42.3" cy="845.9" r="3.8" fill="#131313"/>
<path d="M50.5 842H59.6L51.6 861.9H42.4Z" fill="#131313"/>
<g transform="translate(1554.6 900.9)" fill="none" stroke="#131722" stroke-width="1.4"><path d="M-9.6 0L-4.8 -8.4H4.8L9.6 0L4.8 8.4H-4.8Z" stroke-linejoin="round"/><circle r="2.6"/></g>
</svg>
<div class="tv">TradingView</div>
</body></html>
